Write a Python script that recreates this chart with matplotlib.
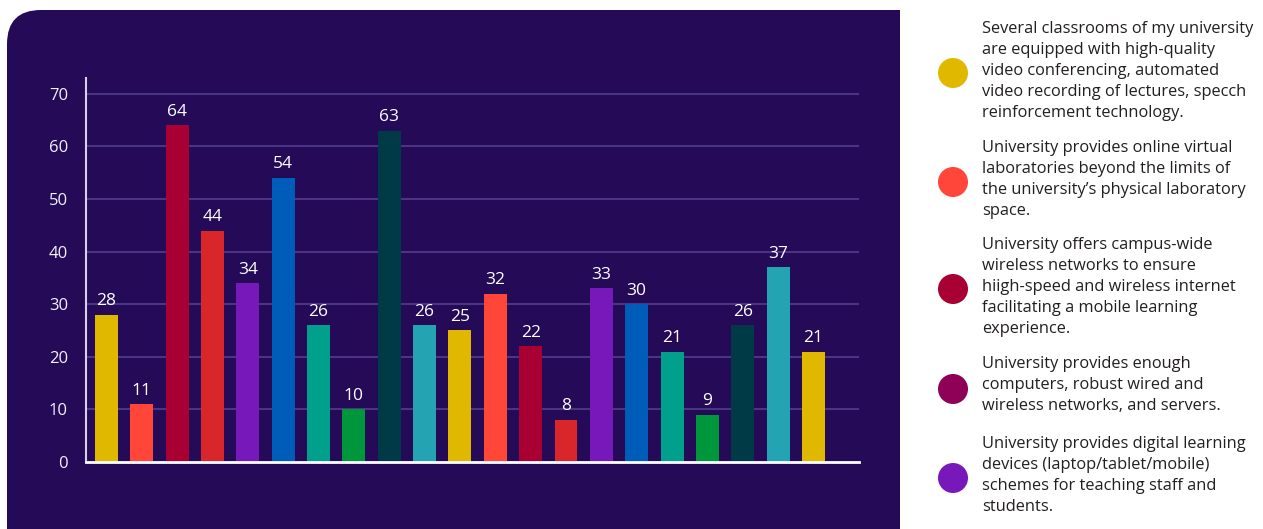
import matplotlib.pyplot as plt
from matplotlib.patches import FancyBboxPatch, Rectangle, Circle

W, H, DPI = 1263, 529, 100

values = [28, 11, 64, 44, 34, 54, 26, 10, 63, 26, 25, 32, 22, 8, 33, 30, 21, 9, 26, 37, 21]
palette = ["#E1B800", "#FF4638", "#A80032", "#D9262B", "#7719BA",
           "#005CB9", "#00A08C", "#00963C", "#003A46", "#24A3B2"]
bar_colors = [palette[i % len(palette)] for i in range(len(values))]
y_ticks = [0, 10, 20, 30, 40, 50, 60, 70]

legend_labels = [
    "Several classrooms of my university\nare equipped with high-quality\nvideo conferencing, automated\n"
    "video recording of lectures, specch\nreinforcement technology.",
    "University provides online virtual\nlaboratories beyond the limits of\n"
    "the university\u2019s physical laboratory\nspace.",
    "University offers campus-wide\nwireless networks to ensure\nhiigh-speed and wireless internet\n"
    "facilitating a mobile learning\nexperience.",
    "University provides enough\ncomputers, robust wired and\nwireless networks, and servers.",
    "University provides digital learning\ndevices (laptop/tablet/mobile)\n"
    "schemes for teaching staff and\nstudents.",
]
legend_colors = ["#E1B800", "#FF4638", "#A80032", "#8F0057", "#7719BA"]

PANEL = "#240A57"
plt.rcParams["font.family"] = ["Open Sans", "DejaVu Sans"]

fig = plt.figure(figsize=(W / DPI, H / DPI), dpi=DPI, facecolor="white")

# background layer in pixel units (y down)
bg = fig.add_axes([0, 0, 1, 1])
bg.set_xlim(0, W)
bg.set_ylim(H, 0)
bg.axis("off")
bg.add_patch(FancyBboxPatch((7, 10), 1000, 600, boxstyle="round,pad=0,rounding_size=34",
                            facecolor=PANEL, edgecolor="none"))
bg.add_patch(Rectangle((900, 0), W - 900, H, facecolor="white", edgecolor="none"))

# legend: dot + wrapped text, one line at a time
first_baselines = [33, 152, 249, 368, 448]
dot_y = [73, 182, 289, 389, 478]
for label, color, base, cy in zip(legend_labels, legend_colors, first_baselines, dot_y):
    bg.add_patch(Circle((953, cy), 15, facecolor=color, edgecolor="none"))
    for k, line in enumerate(label.split("\n")):
        bg.text(982, base + 21 * k, line, fontsize=11.8, color="#231F20",
                ha="left", va="baseline")

# bar chart
ax = fig.add_axes([86 / W, 1 - 462 / H, (859 - 86) / W, (462 - 78) / H])
ax.patch.set_visible(False)
x = range(len(values))
bars = ax.bar(x, values, width=0.65, color=bar_colors, zorder=3)
ax.bar_label(bars, labels=[str(v) for v in values], padding=4,
             color="white", fontsize=12.5)

ax.set_xlim(-0.58, 21.29)
ax.set_ylim(0, 73)
ax.set_yticks(y_ticks)
ax.set_xticks([])
ax.yaxis.grid(True, color="#4A3585", linewidth=1.5)
ax.set_axisbelow(True)
ax.tick_params(axis="y", length=0, pad=13, labelsize=12, labelcolor="#F2F0F8")
for side in ("top", "right"):
    ax.spines[side].set_visible(False)
ax.spines["left"].set_color("#D8D0E8")
ax.spines["left"].set_linewidth(1.5)
ax.spines["bottom"].set_color("white")
ax.spines["bottom"].set_linewidth(2)
ax.spines["bottom"].set_zorder(4)

fig.savefig("out.png", dpi=DPI, facecolor="white")
